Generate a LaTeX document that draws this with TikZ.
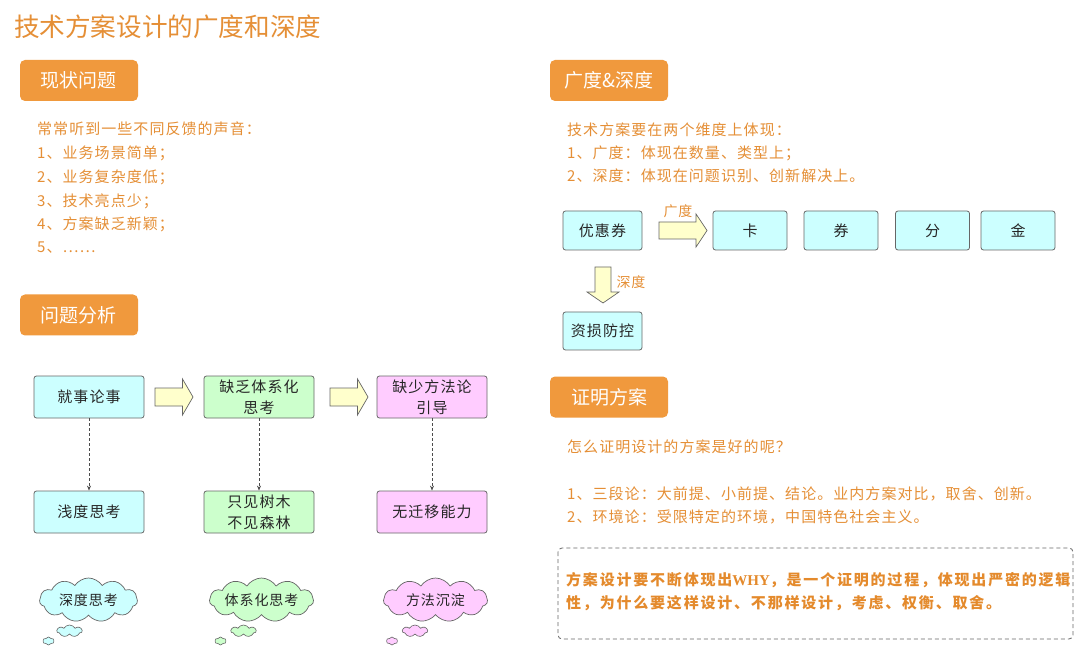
\documentclass[tikz,border=0pt]{standalone}
\usepackage{fontspec}
\setmainfont{Noto Sans CJK SC}
\newfontfamily\bodyfont[LetterSpace=7]{Noto Sans CJK SC}
\newfontfamily\noteb[LetterSpace=12]{Noto Sans CJK SC}
\newfontfamily\latinserif{Liberation Serif}
\usetikzlibrary{shapes.symbols,arrows.meta}
\definecolor{orng}{HTML}{E58F36}
\definecolor{orngd}{HTML}{E48A2C}
\definecolor{hdr}{HTML}{F0993D}
\definecolor{cyanb}{HTML}{CCFFFF}
\definecolor{greenb}{HTML}{CCFFCC}
\definecolor{pinkb}{HTML}{FFCCFF}
\definecolor{yel}{HTML}{FFFFCC}
\definecolor{edge}{HTML}{666666}
\begin{document}
\begin{tikzpicture}[x=1pt,y=-1pt,
 titletext/.style={anchor=west,inner sep=0,text=orng,font=\fontsize{25.6}{26}\selectfont},
 hdrbox/.style={fill=hdr,rounded corners=5pt,text=white,font=\fontsize{19}{19}\selectfont,minimum width=118pt,minimum height=41pt,inner sep=0},
 body/.style={anchor=west,inner sep=0,text=orng,font=\bodyfont\fontsize{15}{15}\selectfont,text height=13.2pt,text depth=1.8pt},
 note/.style={anchor=west,inner sep=0,text=orngd,font=\noteb\bfseries\fontsize{15}{15}\selectfont,text height=13.2pt,text depth=1.8pt},
 boxbase/.style={draw=edge,line width=0.8pt,rounded corners=2.5pt,minimum height=42pt,inner sep=0,align=center,font=\bodyfont\fontsize{15}{21}\selectfont,text=black!85},
 lbox/.style={boxbase,minimum width=110pt},
 rbox/.style={boxbase,minimum width=74pt,minimum height=39pt},
 blk/.style={fill=yel,draw=edge,line width=0.7pt,line join=miter},
 dconn/.style={draw=black!70,line width=0.7pt,dash pattern=on 3pt off 2pt,-{Stealth[length=5pt,width=4pt]}},
 bigcloud/.style={cloud,cloud puffs=11,cloud puff arc=115,cloud ignores aspect,draw=edge,line width=0.7pt,inner sep=0,minimum width=100pt,minimum height=44pt,font=\bodyfont\fontsize{14}{14}\selectfont,text=black!85},
 smallcloud/.style={cloud,cloud puffs=7,cloud puff arc=120,cloud ignores aspect,draw=edge,line width=0.6pt,inner sep=0,minimum width=25pt,minimum height=12pt},
 tinycloud/.style={cloud,cloud puffs=6,cloud puff arc=120,cloud ignores aspect,draw=edge,line width=0.6pt,inner sep=0,minimum width=11pt,minimum height=8pt},
 lbl/.style={inner sep=0,text=orng,font=\bodyfont\fontsize{14}{14}\selectfont},
 dashbox/.style={draw=edge,line width=0.8pt,dash pattern=on 4pt off 3pt,rounded corners=4pt}
]
\useasboundingbox (0,0) rectangle (1080,663);
\fill[white] (0,0) rectangle (1080,663);

% title
\node[titletext] (title) at (14,27) {技术方案设计的广度和深度};

% headers
\node[hdrbox] (h1) at (79,80.5) {现状问题};
\node[hdrbox] (h2) at (79,315) {问题分析};
\node[hdrbox] (h3) at (609,80.5) {广度\&深度};
\node[hdrbox] (h4) at (609,397) {证明方案};

% left text
\node[body] (t1) at (37,128.5) {常常听到一些不同反馈的声音：};
\node[body] (t2) at (37,152.5) {1、业务场景简单；};
\node[body] (t3) at (37,176.5) {2、业务复杂度低；};
\node[body] (t4) at (37,200.5) {3、技术亮点少；};
\node[body] (t5) at (37,224) {4、方案缺乏新颖；};
\node[body] (t6) at (37,247) {5、……};

% right top text
\node[body] (r1) at (567,129.5) {技术方案要在两个维度上体现：};
\node[body] (r2) at (567,152.5) {1、广度：体现在数量、类型上；};
\node[body] (r3) at (567,176) {2、深度：体现在问题识别、创新解决上。};

% right diagram
\node[rbox,fill=cyanb,minimum width=79pt] (yhq) at (602.5,230.5) {优惠券};
\node[rbox,fill=cyanb] (ka) at (750,230.5) {卡};
\node[rbox,fill=cyanb] (quan) at (841,230.5) {券};
\node[rbox,fill=cyanb] (fen) at (932.5,230.5) {分};
\node[rbox,fill=cyanb] (jin) at (1018,230.5) {金};
\node[rbox,fill=cyanb,minimum width=79pt,minimum height=38pt] (zsfk) at (602.5,331) {资损防控};
\draw[blk] (659,222) -- (696,222) -- (696,214) -- (707,230.5) -- (696,247) -- (696,239) -- (659,239) -- cycle;
\node[lbl] (lgd) at (678,211) {广度};
\draw[blk] (595,267) -- (611,267) -- (611,292) -- (619,292) -- (603,303) -- (587,292) -- (595,292) -- cycle;
\node[lbl] (lsd) at (631,282) {深度};

% left diagram
\node[lbox,fill=cyanb] (a1) at (89,397) {就事论事};
\node[lbox,fill=greenb] (a2) at (259,397) {缺乏体系化\\思考};
\node[lbox,fill=pinkb] (a3) at (432,397) {缺少方法论\\引导};
\node[lbox,fill=cyanb] (b1) at (89,512) {浅度思考};
\node[lbox,fill=greenb] (b2) at (259,512) {只见树木\\不见森林};
\node[lbox,fill=pinkb] (b3) at (432,512) {无迁移能力};
\draw[dconn] (a1) -- (b1);
\draw[dconn] (a2) -- (b2);
\draw[dconn] (a3) -- (b3);
\draw[blk] (155,388) -- (182.5,388) -- (182.5,379) -- (193,397) -- (182.5,415) -- (182.5,406) -- (155,406) -- cycle;
\draw[blk] (330,388) -- (357.5,388) -- (357.5,379) -- (368,397) -- (357.5,415) -- (357.5,406) -- (330,406) -- cycle;

% clouds
\node[bigcloud,fill=cyanb,minimum width=98pt] (c1) at (88.5,600) {深度思考};
\node[smallcloud,fill=cyanb] (c1s) at (69.5,631) {};
\node[tinycloud,fill=cyanb] (c1t) at (48.5,641) {};
\node[bigcloud,fill=greenb,minimum width=104pt] (c2) at (261.5,600) {体系化思考};
\node[smallcloud,fill=greenb] (c2s) at (243.5,631) {};
\node[tinycloud,fill=greenb] (c2t) at (220.5,641) {};
\node[bigcloud,fill=pinkb,minimum width=104pt] (c3) at (435.5,600) {方法沉淀};
\node[smallcloud,fill=pinkb] (c3s) at (415,631) {};
\node[tinycloud,fill=pinkb] (c3t) at (392,641) {};

% right bottom text
\node[body] (p1) at (567,447) {怎么证明设计的方案是好的呢？};
\node[body] (p2) at (567,493.5) {1、三段论：大前提、小前提、结论。业内方案对比，取舍、创新。};
\node[body] (p3) at (567,517) {2、环境论：受限特定的环境，中国特色社会主义。};

\draw[dashbox] (558,548) rectangle (1073,639);
\node[note] (d1) at (566,580) {方案设计要不断体现出{\latinserif\bfseries WHY}，是一个证明的过程，体现出严密的逻辑};
\node[note] (d2) at (566,603) {性，为什么要这样设计、不那样设计，考虑、权衡、取舍。};
\end{tikzpicture}
\end{document}
